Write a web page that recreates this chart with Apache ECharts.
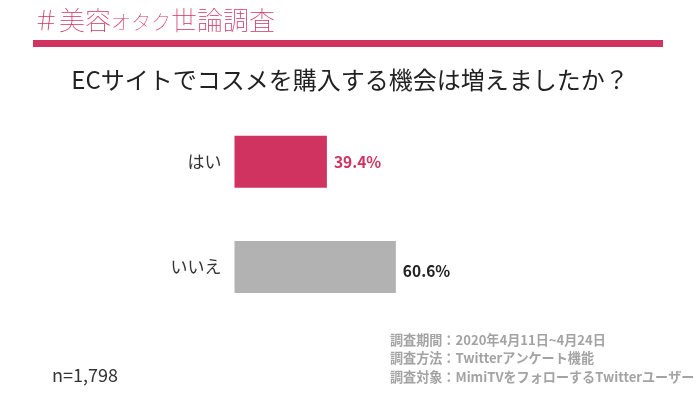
<!DOCTYPE html>
<html><head><meta charset="utf-8">
<script src="https://cdn.jsdelivr.net/npm/echarts@6/dist/echarts.min.js"></script>
<style>html,body{margin:0;padding:0;background:#fff}#c{width:700px;height:394px}</style>
</head><body><div id="c"></div>
<script>
const categories = ['はい', 'いいえ'];
const values = [39.4, 60.6];
const barColors = ['#d0335f', '#b3b2b3'];
const labelColors = ['#d0335f', '#222222'];
const question = 'ECサイトでコスメを購入する機会は増えましたか？';
const sampleNote = 'n=1,798';
const surveyNotes = ['調査期間：2020年4月11日~4月24日', '調査方法：Twitterアンケート機能', '調査対象：MimiTVをフォローするTwitterユーザー'];

const FONT = '"Noto Sans CJK JP", "Noto Sans", sans-serif';
const chart = echarts.init(document.getElementById('c'));
chart.setOption({
  backgroundColor: '#fff',
  animation: false,
  textStyle: { fontFamily: FONT },
  title: [{
    text: '{a|＃美容}{b|オタク}{a|世論調査}',
    left: 28, top: 2,
    textStyle: {
      rich: {
        a: { fontSize: 26, color: '#d0335f', fontFamily: FONT, fontWeight: 'lighter', verticalAlign: 'bottom' },
        b: { fontSize: 20, color: '#d0335f', fontFamily: FONT, fontWeight: 'lighter', verticalAlign: 'bottom', padding: [0, 0, 1, 0] }
      }
    }
  }, {
    text: question,
    left: 'center', top: 63,
    textStyle: { fontSize: 24, color: '#222', fontWeight: 'normal', fontFamily: FONT }
  }, {
    text: sampleNote,
    left: 47, top: 361,
    textStyle: { fontSize: 18, color: '#333', fontWeight: 'normal', fontFamily: FONT }
  }, {
    text: surveyNotes.join('\n'),
    left: 385, top: 326,
    textStyle: { fontSize: 13.1, color: '#a3a3a3', fontWeight: 'bold', lineHeight: 18.3, fontFamily: FONT }
  }],
  graphic: [{
    type: 'rect', shape: { x: 33, y: 40, width: 630, height: 7 }, style: { fill: '#d0335f' }
  }],
  grid: { left: 234.5, right: 215, top: 109, bottom: 74.5, containLabel: false },
  xAxis: {
    type: 'value', min: 11, max: 88, startValue: 11,
    show: false
  },
  yAxis: {
    type: 'category', data: categories, inverse: true,
    axisLine: { show: false }, axisTick: { show: false }, splitLine: { show: false },
    axisLabel: { fontSize: 17, color: '#333', margin: 13, fontFamily: FONT }
  },
  series: [{
    type: 'bar',
    barWidth: 52,
    data: values.map((v, i) => ({
      value: v,
      itemStyle: { color: barColors[i] },
      label: { color: labelColors[i], offset: i === 1 ? [0, 4] : [0, 0] }
    })),
    label: {
      show: true, position: 'right', distance: 7,
      fontSize: 15.5, fontWeight: 'bold', fontFamily: FONT,
      formatter: p => p.value.toFixed(1) + '%'
    }
  }]
});
</script></body></html>
